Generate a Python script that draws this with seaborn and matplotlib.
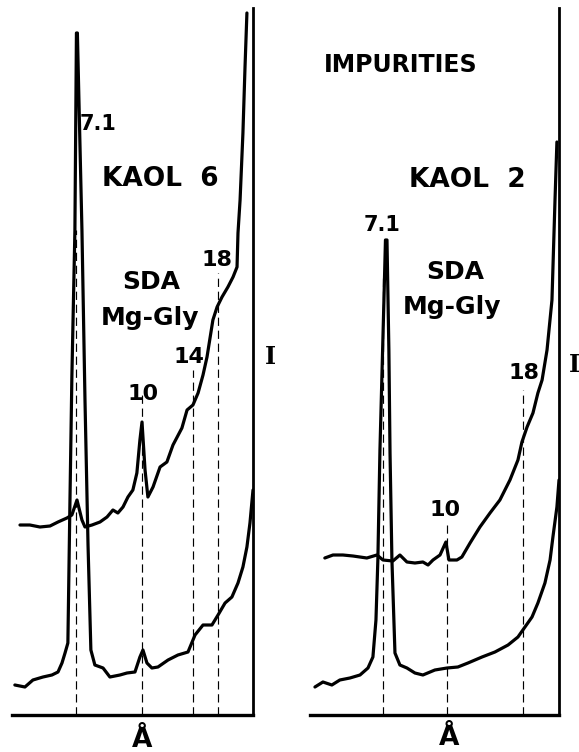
import matplotlib
matplotlib.use("Agg")
import matplotlib.pyplot as plt
import seaborn as sns
import pandas as pd

sns.set_style("white")
plt.rcParams['font.family'] = ['DejaVu Sans']

# ---------------- data (2-theta degrees, relative intensity) ----------------
# KAOL 6 panel
k6_lower_2t = [15.53, 15.00, 14.58, 14.05, 13.58, 13.26, 13.05, 12.89, 12.74, 12.63, 12.53, 12.37,
               12.29, 12.24, 12.00, 11.84, 11.68, 11.53, 11.32, 10.89, 10.53, 10.00, 9.63, 9.21,
               8.95, 8.79, 8.58, 8.32, 8.00, 7.47, 6.95, 6.42, 6.05, 5.63, 5.16, 4.84, 4.47,
               4.11, 3.79, 3.53, 3.32, 3.16, 3.00]
k6_lower_i = [30, 28, 35, 38, 40, 43, 52, 62, 72, 215, 338, 485,
              682, 682, 485, 315, 170, 65, 50, 47, 38, 40, 42, 43,
              58, 65, 52, 47, 48, 55, 60, 63, 80, 90, 90, 100, 112,
              118, 132, 148, 168, 192, 225]

k6_upper_2t = [15.26, 14.74, 14.21, 13.68, 13.26, 12.79, 12.53, 12.26, 12.00, 11.84, 11.47, 11.05,
               10.68, 10.37, 10.11, 9.84, 9.58, 9.32, 9.11, 8.95, 8.84, 8.68, 8.53, 8.26, 7.89,
               7.53, 7.21, 6.74, 6.47, 6.16, 5.89, 5.63, 5.42, 5.11, 4.89, 4.63, 4.32, 4.05,
               3.84, 3.79, 3.68, 3.53, 3.42, 3.32]
k6_upper_i = [190, 190, 188, 189, 193, 197, 200, 215, 195, 188, 190, 193,
              198, 205, 202, 208, 218, 225, 242, 275, 293, 245, 218, 228, 248,
              253, 270, 287, 305, 310, 322, 340, 358, 395, 408, 418, 428, 438,
              448, 482, 515, 582, 648, 702]

k6_marks_d = ["7.1", "10", "14", "18"]
k6_marks_2t = [12.29, 8.82, 6.16, 4.82]
k6_marks_top = [485, 320, 345, 442]

# KAOL 2 panel
k2_lower_2t = [15.84, 15.42, 14.95, 14.53, 14.00, 13.47, 13.05, 12.79, 12.63, 12.53, 12.42, 12.21,
               12.13, 12.05, 11.95, 11.89, 11.79, 11.63, 11.37, 11.00, 10.58, 10.16, 9.53, 8.89,
               8.32, 7.79, 7.05, 6.37, 5.68, 5.16, 4.79, 4.42, 4.11, 3.74, 3.47, 3.32, 3.11, 3.00]
k2_lower_i = [28, 33, 30, 35, 37, 40, 47, 58, 95, 155, 265, 415,
              475, 475, 365, 262, 155, 62, 50, 47, 42, 40, 45, 47,
              48, 52, 58, 63, 70, 78, 88, 98, 112, 132, 155, 178, 208, 235]

k2_upper_2t = [15.32, 14.89, 14.37, 13.84, 13.11, 12.58, 12.26, 11.74, 11.37, 11.00, 10.58, 10.16,
               9.89, 9.63, 9.26, 8.95, 8.79, 8.37, 8.11, 7.68, 7.16, 6.63, 6.11, 5.58, 5.16,
               4.95, 4.68, 4.37, 4.11, 3.89, 3.63, 3.37, 3.21, 3.11]
k2_upper_i = [157, 160, 160, 159, 157, 160, 155, 154, 160, 153, 152, 153,
              150, 155, 160, 173, 155, 155, 158, 172, 188, 202, 215, 235, 255,
              273, 288, 302, 322, 335, 365, 415, 515, 573]

k2_marks_d = ["7.1", "10", "18"]
k2_marks_2t = [12.26, 8.89, 4.89]
k2_marks_top = [440, 190, 325]

# ---------------- figure ----------------
W, H = 579, 752
fig = plt.figure(figsize=(W / 100, H / 100), dpi=100)


def add_ax(x0, x1, y_top, y_bot):
    return fig.add_axes([x0 / W, 1 - y_bot / H, (x1 - x0) / W, (y_bot - y_top) / H])


ax1 = add_ax(12, 253, 8, 715)
ax2 = add_ax(310, 559, 8, 715)

panels = [
    (ax1, k6_lower_2t, k6_lower_i, k6_upper_2t, k6_upper_i, k6_marks_2t, k6_marks_top, 15.68),
    (ax2, k2_lower_2t, k2_lower_i, k2_upper_2t, k2_upper_i, k2_marks_2t, k2_marks_top, 16.10),
]

for ax, lx, ly, ux, uy, mx, mt, xmax in panels:
    lower = pd.DataFrame({"two_theta": lx, "intensity": ly})
    upper = pd.DataFrame({"two_theta": ux, "intensity": uy})
    sns.lineplot(data=lower, x="two_theta", y="intensity", ax=ax, color="black",
                 lw=2.3, sort=False, estimator=None, solid_joinstyle="round")
    sns.lineplot(data=upper, x="two_theta", y="intensity", ax=ax, color="black",
                 lw=2.3, sort=False, estimator=None, solid_joinstyle="round")
    ax.vlines(mx, 0, mt, colors="black", linestyles=(0, (7, 4)), lw=0.85)
    ax.set_xlim(xmax, 3.0)
    ax.set_ylim(0, 707)
    ax.set_xticks([])
    ax.set_yticks([])
    ax.set_xlabel("")
    ax.set_ylabel("")
    for s in ("left", "top"):
        ax.spines[s].set_visible(False)
    ax.spines["bottom"].set_linewidth(2.4)
    ax.spines["right"].set_linewidth(2.0)
    ax.spines["bottom"].set_color("black")
    ax.spines["right"].set_color("black")
    ax.patch.set_alpha(0)


def label(px, py, s, size=16, ha="center", family=None):
    kw = dict(fontsize=size, fontweight="bold", ha=ha, va="center", color="black")
    if family:
        kw["family"] = family
    fig.text(px / W, 1 - py / H, s, **kw)


# left panel texts
label(98, 124, "7.1", 15)
label(160, 179, "KAOL  6", 19)
label(151, 282, "SDA", 18)
label(150, 318, "Mg-Gly", 18)
label(217, 260, "18", 16)
label(189, 357, "14", 16)
label(143, 394, "10", 16)
label(270, 357, "I", 17, family="DejaVu Serif")
label(142, 740, "Å", 19)

# right panel texts
label(401, 65, "IMPURITIES", 17)
label(467, 180, "KAOL  2", 19)
label(382, 225, "7.1", 15)
label(455, 272, "SDA", 18)
label(452, 307, "Mg-Gly", 18)
label(524, 373, "18", 16)
label(445, 510, "10", 16)
label(569, 365, "I", 17, ha="left", family="DejaVu Serif")
label(449, 738, "Å", 19)

fig.savefig("out.png", dpi=100)
